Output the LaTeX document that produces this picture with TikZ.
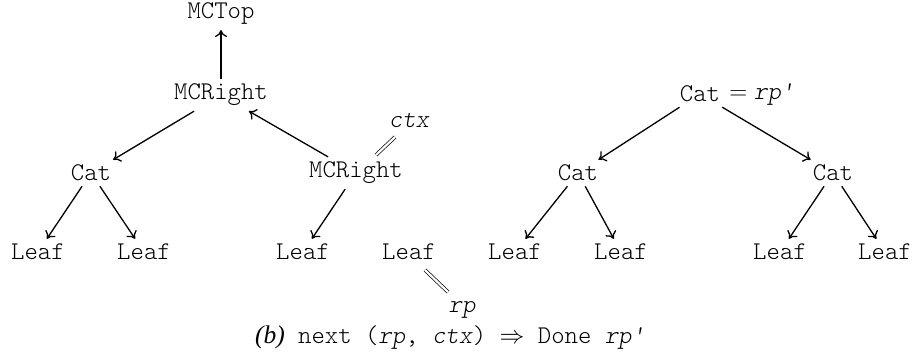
\documentclass[tikz,border=0pt]{standalone}
\usepackage{fontspec}
\setmainfont{Liberation Serif}
\setmonofont{lmmonolt10-regular.otf}[ItalicFont=lmmonolt10-oblique.otf]
\usetikzlibrary{arrows.meta}
\begin{document}
\begin{tikzpicture}[x=1pt,y=-1pt,
  every node/.style={font=\ttfamily\fontsize{25.5}{29}\selectfont, inner xsep=2pt, inner ysep=5pt},
  arr/.style={-{To[length=7pt,width=12pt]}, line width=1.3pt},
  dbl/.style={double, double distance=2.2pt, line width=0.7pt}]
\useasboundingbox (0,0) rectangle (914,362);
% left tree
\node (top) at (221,14) {MCTop};
\node (m1) at (221,95) {MCRight};
\node (c1) at (91,173) {Cat};
\node (m2) at (356,173) {MCRight};
\node (ctx) at (409,121) {\itshape ctx};
\node (l1) at (38,252) {Leaf};
\node (l2) at (144,252) {Leaf};
\node (l3) at (303,252) {Leaf};
\node (l4) at (409,252) {Leaf};
\node (rp) at (462,310) {\itshape rp};
\coordinate (d1) at (376,155);
\coordinate (d2) at (395,137);
\coordinate (d3) at (425,270);
\coordinate (d4) at (448,292);
\draw[arr] (m1) -- (top);
\draw[arr] (m1) -- (c1);
\draw[arr] (m2) -- (m1);
\draw[arr] (c1) -- (l1);
\draw[arr] (c1) -- (l2);
\draw[arr] (m2) -- (l3);
\draw[dbl] (d1) -- (d2);
\draw[dbl] (d3) -- (d4);
% right tree
\node (c0) at (700,94) {Cat};
\node[anchor=west, inner xsep=0pt] (eq) at (c0.east) {${}={}$\textit{rp'}};
\node (c2) at (578,173) {Cat};
\node (c3) at (833,173) {Cat};
\node (l5) at (515,252) {Leaf};
\node (l6) at (621,252) {Leaf};
\node (l7) at (780,252) {Leaf};
\node (l8) at (885,252) {Leaf};
\draw[arr] (c0) -- (c2);
\draw[arr] (c0) -- (c3);
\draw[arr] (c2) -- (l5);
\draw[arr] (c2) -- (l6);
\draw[arr] (c3) -- (l7);
\draw[arr] (c3) -- (l8);
% caption
\node (cap) at (450,338) {{\rmfamily\itshape (b)} next (\textit{rp}, \textit{ctx}) $\Rightarrow$ Done \textit{rp'}};
\end{tikzpicture}
\end{document}
